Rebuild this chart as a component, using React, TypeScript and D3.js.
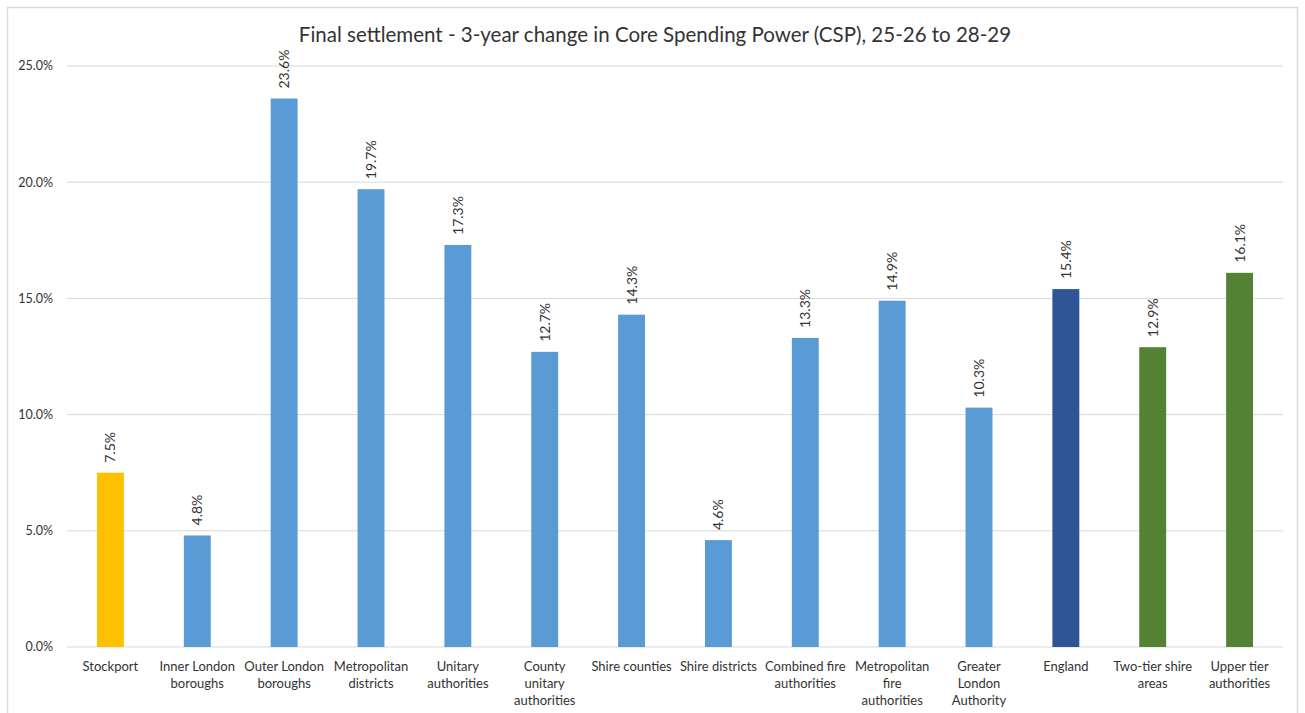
import React from "react";
import * as d3 from "d3";

const categories = [
  "Stockport", "Inner London boroughs", "Outer London boroughs", "Metropolitan districts",
  "Unitary authorities", "County unitary authorities", "Shire counties", "Shire districts",
  "Combined fire authorities", "Metropolitan fire authorities", "Greater London Authority",
  "England", "Two-tier shire areas", "Upper tier authorities",
];
const categoryLines = [
  ["Stockport"], ["Inner London", "boroughs"], ["Outer London", "boroughs"], ["Metropolitan", "districts"],
  ["Unitary", "authorities"], ["County", "unitary", "authorities"], ["Shire counties"], ["Shire districts"],
  ["Combined fire", "authorities"], ["Metropolitan", "fire", "authorities"], ["Greater", "London", "Authority"],
  ["England"], ["Two-tier shire", "areas"], ["Upper tier", "authorities"],
];
const values = [7.5, 4.8, 23.6, 19.7, 17.3, 12.7, 14.3, 4.6, 13.3, 14.9, 10.3, 15.4, 12.9, 16.1];
const colors = [
  "#FFC000", "#5B9BD5", "#5B9BD5", "#5B9BD5", "#5B9BD5", "#5B9BD5", "#5B9BD5", "#5B9BD5",
  "#5B9BD5", "#5B9BD5", "#5B9BD5", "#2F5597", "#548235", "#548235",
];
const yTicks = [0, 5, 10, 15, 20, 25];
const title = "Final settlement - 3-year change in Core Spending Power (CSP), 25-26 to 28-29";

const W = 1305;
const H = 713;
const FONT = "Lato, 'Open Sans', sans-serif";
const TXT = "#333333";

export default function App() {
  const left = 67, right = 1283, top = 66, bottom = 647;
  const x = d3.scaleBand<string>().domain(categories).range([left, right]).paddingInner(0.69).paddingOuter(0.345);
  const y = d3.scaleLinear().domain([0, 25]).range([bottom, top]);
  return (
    <svg width={W} height={H} style={{ position: "absolute", left: 0, top: 0, background: "#fff" }}>
      <rect x={7.5} y={7.5} width={1290} height={720} fill="#fff" stroke="#D9D9D9" strokeWidth={1.5} />
      <text x={655} y={42} textAnchor="middle" fontFamily={FONT} fontSize={20.5} fill={TXT}>{title}</text>
      {yTicks.map((t) => (
        <g key={t}>
          <line x1={left} x2={right} y1={y(t)} y2={y(t)} stroke="#D9D9D9" strokeWidth={1} />
          <text x={53} y={y(t)} dy="0.35em" textAnchor="end" fontFamily={FONT} fontSize={12.5} fill={TXT}>
            {d3.format(".1f")(t) + "%"}
          </text>
        </g>
      ))}
      {categories.map((c, i) => {
        const bx = x(c)!;
        const cx = bx + x.bandwidth() / 2;
        return (
          <g key={c}>
            <rect x={bx} y={y(values[i])} width={x.bandwidth()} height={y(0) - y(values[i])} fill={colors[i]} />
            <text
              transform={`translate(${cx + 5},${y(values[i]) - 10}) rotate(-90)`}
              fontFamily={FONT} fontSize={14} fill={TXT}
            >
              {d3.format(".1f")(values[i]) + "%"}
            </text>
            {categoryLines[i].map((ln, j) => (
              <text key={j} x={cx} y={671 + j * 17} textAnchor="middle" fontFamily={FONT} fontSize={13} fill={TXT}>
                {ln}
              </text>
            ))}
          </g>
        );
      })}
    </svg>
  );
}
